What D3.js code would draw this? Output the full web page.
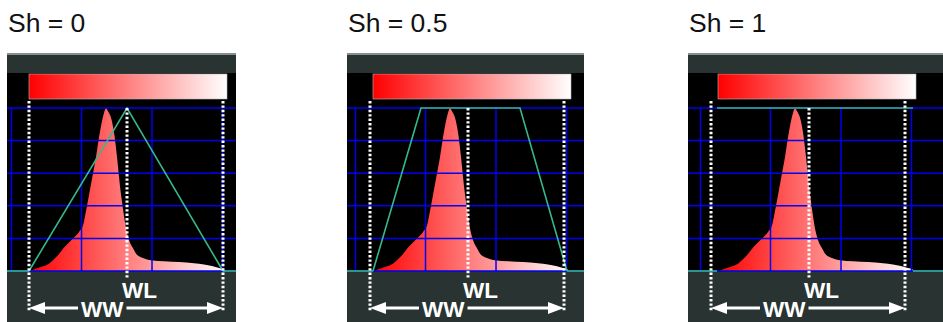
<!DOCTYPE html>
<html>
<head>
<meta charset="utf-8">
<script src="https://cdn.jsdelivr.net/npm/d3@7"></script>
<style>
  body { margin: 0; background: #fff; }
  svg { display: block; font-family: "Liberation Sans", Arial, sans-serif; }
</style>
</head>
<body>
<div id="container"></div>
<script>
// shading value shown above each panel
const titles = ["Sh = 0", "Sh = 0.5", "Sh = 1"];

// histogram (intensity, percent of peak) - same data in every panel
const histogram = [
    [2, 0], [5, 1], [12, 2.5], [20, 4.5], [28, 9], [36, 15], [44, 20], [50, 24],
    [54, 28], [58, 40], [61, 50], [64, 60], [67, 70], [70, 82], [73, 92], [75, 97],
    [77, 100], [79, 98], [82, 94], [85, 85], [88, 70], [91, 52], [94, 38], [97, 26],
    [100, 19], [104, 14], [108, 10], [114, 8], [122, 6.6], [135, 6], [150, 5.5],
    [165, 4.8], [175, 4], [183, 3], [190, 1.8], [195, 0.8], [196, 0]
];

// grid lines
const gridX = [-17.5, 52.5, 123, 193.5];
const gridY = [0, 20, 40, 60, 80, 100];

// window per panel
const windowLow = [0, -3, -7];
const windowLevel = [98, 95, 91];
const windowHigh = [194, 191, 187];

// transfer function corners per panel
const tfShapes = [
    [[0, 0], [98, 100], [194, 0]],
    [[0, 0], [48, 100], [147, 100], [194, 0]],
    [[-1, 100], [195, 100]]
];

const W = 943, H = 322;
const panelLeft = [7, 347, 688],
    panelRight = [236, 584, 943],
    barLeft = [29, 373, 718],
    barWidth = 198;

const svg = d3.select("#container")
    .append("svg")
    .attr("width", W)
    .attr("height", H);

const defs = svg.append("defs");

const y = d3.scaleLinear().domain([0, 100]).range([271, 108]);

titles.forEach(function (title, i)
{
    const x = d3.scaleLinear().domain([0, barWidth]).range([barLeft[i], barLeft[i] + barWidth]);
    const pl = panelLeft[i], pr = panelRight[i];
    const g = svg.append("g");

    // red -> white ramp, shared by colour bar and histogram
    const grad = defs.append("linearGradient")
        .attr("id", "ramp" + i)
        .attr("gradientUnits", "userSpaceOnUse")
        .attr("x1", x(0)).attr("x2", x(barWidth))
        .attr("y1", 0).attr("y2", 0);
    grad.append("stop").attr("offset", 0).attr("stop-color", "#ff0000");
    grad.append("stop").attr("offset", 1).attr("stop-color", "#ffffff");

    g.append("text")
        .attr("x", pl + 1)
        .attr("y", 32)
        .attr("font-size", 26.5)
        .attr("fill", "#111")
        .text(title);

    // panel background
    g.append("rect").attr("x", pl).attr("y", 53).attr("width", pr - pl).attr("height", 2).attr("fill", "#8a8d8d");
    g.append("rect").attr("x", pl).attr("y", 55).attr("width", pr - pl).attr("height", H - 55).attr("fill", "#283332");
    g.append("rect").attr("x", pl).attr("y", 73).attr("width", pr - pl).attr("height", y(0) - 73).attr("fill", "#000");

    // colour bar
    g.append("rect")
        .attr("x", x(0)).attr("y", 74)
        .attr("width", barWidth).attr("height", 25)
        .attr("fill", "url(#ramp" + i + ")")
        .attr("stroke", "#b8b8b8").attr("stroke-width", 0.6);

    // histogram
    const area = d3.area()
        .x(function (d) { return x(d[0]); })
        .y0(y(0))
        .y1(function (d) { return y(d[1]); })
        .curve(d3.curveMonotoneX);
    g.append("path")
        .datum(histogram)
        .attr("d", area)
        .attr("fill", "url(#ramp" + i + ")");

    // grid
    const grid = g.append("g");
    grid.selectAll(".gy").data(gridY).enter().append("line")
        .attr("x1", pl).attr("x2", pr)
        .attr("y1", function (d) { return y(d); })
        .attr("y2", function (d) { return y(d); })
        .attr("stroke", "#0000f0").attr("stroke-width", 1.5);
    grid.selectAll(".gx").data(gridX).enter().append("line")
        .attr("x1", function (d) { return x(d); })
        .attr("x2", function (d) { return x(d); })
        .attr("y1", y(100)).attr("y2", y(0))
        .attr("stroke", "#0000f0").attr("stroke-width", 1.5);

    // transfer function
    const shape = tfShapes[i];
    const green = "#35b98c";
    g.append("line")
        .attr("x1", pl).attr("x2", x(shape[0][0]))
        .attr("y1", y(0)).attr("y2", y(0))
        .attr("stroke", green).attr("stroke-width", 1.6);
    g.append("line")
        .attr("x1", x(shape[shape.length - 1][0])).attr("x2", pr)
        .attr("y1", y(0)).attr("y2", y(0))
        .attr("stroke", green).attr("stroke-width", 1.6);
    g.append("path")
        .datum(shape)
        .attr("d", d3.line().x(function (d) { return x(d[0]); }).y(function (d) { return y(d[1]); }))
        .attr("fill", "none")
        .attr("stroke", green).attr("stroke-width", 1.6);

    // window markers
    const lo = x(windowLow[i]), hi = x(windowHigh[i]), wl = x(windowLevel[i]);
    [lo, hi].forEach(function (px)
    {
        g.append("line")
            .attr("x1", px).attr("x2", px)
            .attr("y1", 101).attr("y2", 312)
            .attr("stroke", "#fff").attr("stroke-width", 3)
            .attr("stroke-dasharray", "2.4,2");
    });
    g.append("line")
        .attr("x1", wl).attr("x2", wl)
        .attr("y1", y(100)).attr("y2", 279)
        .attr("stroke", "#fff").attr("stroke-width", 3)
        .attr("stroke-dasharray", "2.4,2");

    g.append("text")
        .attr("x", wl - 5).attr("y", 298)
        .attr("font-size", 22.5).attr("font-weight", "bold")
        .attr("fill", "#fff")
        .text("WL");

    const ww = g.append("text")
        .attr("x", lo + 52).attr("y", 317)
        .attr("font-size", 22.5).attr("font-weight", "bold")
        .attr("fill", "#fff")
        .text("WW");
    const tw = ww.node().getComputedTextLength();

    const ay = 308;
    g.append("line").attr("x1", lo + 10).attr("x2", lo + 49).attr("y1", ay).attr("y2", ay)
        .attr("stroke", "#fff").attr("stroke-width", 2.8);
    g.append("line").attr("x1", lo + 55 + tw).attr("x2", hi - 10).attr("y1", ay).attr("y2", ay)
        .attr("stroke", "#fff").attr("stroke-width", 2.8);
    g.append("path")
        .attr("d", "M" + lo + "," + ay + "L" + (lo + 16) + "," + (ay - 6) + "L" + (lo + 16) + "," + (ay + 6) + "Z")
        .attr("fill", "#fff");
    g.append("path")
        .attr("d", "M" + hi + "," + ay + "L" + (hi - 16) + "," + (ay - 6) + "L" + (hi - 16) + "," + (ay + 6) + "Z")
        .attr("fill", "#fff");
});
</script>
</body>
</html>
